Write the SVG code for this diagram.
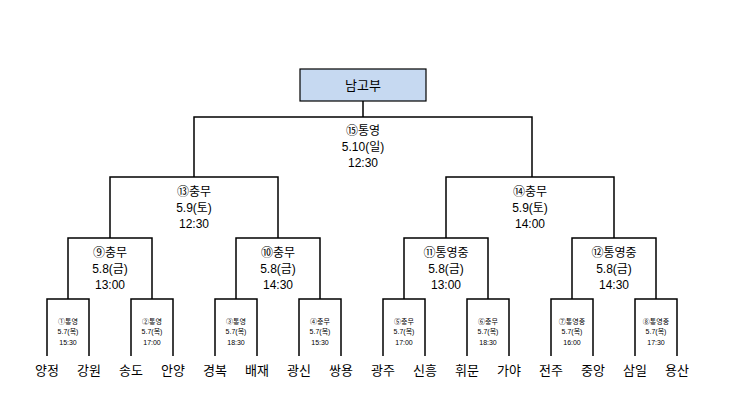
<svg xmlns="http://www.w3.org/2000/svg" width="738" height="401" viewBox="0 0 738 401">
<style>
text{font-family:"Liberation Sans","Noto Sans CJK KR",sans-serif;text-anchor:middle;fill:#000}
.m{font-size:12px}
.s{font-size:7px;fill:#555}
.t{font-size:13px}
.l{fill:none;stroke:#000;stroke-width:1.5}
</style>
<rect width="738" height="401" fill="#fff"/>
<g id="title"><rect x="300" y="69" width="126" height="32" fill="#c6d9f1" stroke="#000" stroke-width="1.2"/><text x="363" y="90" class="t">남고부</text></g>
<g id="connectors" class="l">
<path d="M363 101V117M194 177V117H532V177"/>
<path d="M110 238V177H278V238M446 238V177H614V238"/>
<path d="M68 299V238H152V299M236 299V238H320V299M404 299V238H488V299M572 299V238H656V299"/>
<path d="M47 356V299H89V356M131 356V299H173V356M215 356V299H257V356M299 356V299H341V356M383 356V299H425V356M467 356V299H509V356M551 356V299H593V356M635 356V299H677V356"/>
</g>
<g id="m15" class="m"><text x="363" y="135">⑮통영</text><text x="363" y="151">5.10(일)</text><text x="363" y="167">12:30</text></g>
<g id="m13" class="m"><text x="194" y="196">⑬충무</text><text x="194" y="212">5.9(토)</text><text x="194" y="228">12:30</text></g>
<g id="m14" class="m"><text x="530" y="196">⑭충무</text><text x="530" y="212">5.9(토)</text><text x="530" y="228">14:00</text></g>
<g id="m9" class="m"><text x="110" y="257">⑨충무</text><text x="110" y="273">5.8(금)</text><text x="110" y="289">13:00</text></g>
<g id="m10" class="m"><text x="278" y="257">⑩충무</text><text x="278" y="273">5.8(금)</text><text x="278" y="289">14:30</text></g>
<g id="m11" class="m"><text x="446" y="257">⑪통영중</text><text x="446" y="273">5.8(금)</text><text x="446" y="289">13:00</text></g>
<g id="m12" class="m"><text x="614" y="257">⑫통영중</text><text x="614" y="273">5.8(금)</text><text x="614" y="289">14:30</text></g>
<g id="m1" class="s"><text x="68" y="324">①통영</text><text x="68" y="334">5.7(목)</text><text x="68" y="345">15:30</text></g>
<g id="m2" class="s"><text x="152" y="324">②통영</text><text x="152" y="334">5.7(목)</text><text x="152" y="345">17:00</text></g>
<g id="m3" class="s"><text x="236" y="324">③통영</text><text x="236" y="334">5.7(목)</text><text x="236" y="345">18:30</text></g>
<g id="m4" class="s"><text x="320" y="324">④충무</text><text x="320" y="334">5.7(목)</text><text x="320" y="345">15:30</text></g>
<g id="m5" class="s"><text x="404" y="324">⑤충무</text><text x="404" y="334">5.7(목)</text><text x="404" y="345">17:00</text></g>
<g id="m6" class="s"><text x="488" y="324">⑥충무</text><text x="488" y="334">5.7(목)</text><text x="488" y="345">18:30</text></g>
<g id="m7" class="s"><text x="572" y="324">⑦통영중</text><text x="572" y="334">5.7(목)</text><text x="572" y="345">16:00</text></g>
<g id="m8" class="s"><text x="656" y="324">⑧통영중</text><text x="656" y="334">5.7(목)</text><text x="656" y="345">17:30</text></g>
<g id="teams" class="t">
<text x="47" y="375">양정</text><text x="89" y="375">강원</text><text x="131" y="375">송도</text><text x="173" y="375">안양</text>
<text x="215" y="375">경복</text><text x="257" y="375">배재</text><text x="299" y="375">광신</text><text x="341" y="375">쌍용</text>
<text x="383" y="375">광주</text><text x="425" y="375">신흥</text><text x="467" y="375">휘문</text><text x="509" y="375">가야</text>
<text x="551" y="375">전주</text><text x="593" y="375">중앙</text><text x="635" y="375">삼일</text><text x="677" y="375">용산</text>
</g>
</svg>
